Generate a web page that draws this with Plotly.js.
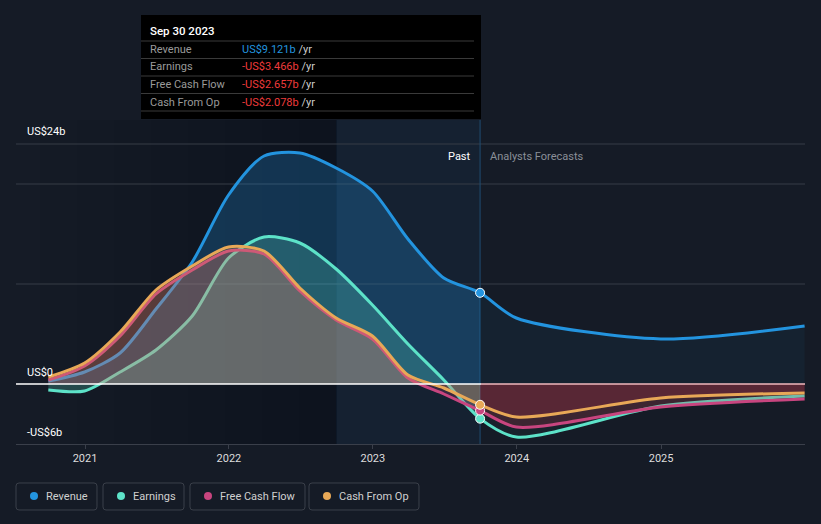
<!DOCTYPE html>
<html>
<head>
<meta charset="utf-8">
<script src="https://cdn.plot.ly/plotly-3.0.1.min.js"></script>
<style>
html,body{margin:0;padding:0;background:#151b26;}
#chart{width:821px;height:524px;}
</style>
</head>
<body>
<div id="chart"></div>
<script>
// ---- data (US$ billions, trailing twelve months) ----
const pastDates = ['2020-09-30','2020-12-31','2021-03-31','2021-06-30','2021-09-30','2021-12-31','2022-03-31','2022-06-30','2022-09-30','2022-12-31','2023-03-31','2023-06-30','2023-09-30'];
const revenuePast  = [0.3, 1.2, 3.1, 7.5, 12.2, 18.9, 22.8, 23.1, 21.6, 19.3, 14.5, 10.6, 9.121];
const earningsPast = [-0.6, -0.7, 1.2, 3.4, 6.8, 12.6, 14.7, 14.1, 11.5, 7.9, 4.0, 0.4, -3.466];
const fcfPast      = [0.4, 1.8, 4.8, 9.0, 11.4, 13.3, 13.0, 9.3, 6.4, 4.5, 0.6, -1.0, -2.657];
const cfoPast      = [0.7, 2.1, 5.2, 9.4, 11.8, 13.7, 13.3, 9.6, 6.6, 4.8, 0.9, -0.4, -2.078];

const forecastDates    = ['2023-09-30','2023-12-31','2024-12-31','2025-12-31'];
const revenueForecast  = [9.121, 6.6, 4.5, 5.8];
const earningsForecast = [-3.466, -5.3, -2.2, -1.2];
const fcfForecast      = [-2.657, -4.3, -2.3, -1.5];
const cfoForecast      = [-2.078, -3.3, -1.4, -0.9];

const seriesNames = ['Revenue','Earnings','Free Cash Flow','Cash From Op'];
const tooltipDate = 'Sep 30 2023';
const tooltipValues = ['US$9.121b','-US$3.466b','-US$2.657b','-US$2.078b'];
const xTickVals = ['2021-01-01','2022-01-01','2023-01-01','2024-01-01','2025-01-01'];
const xTickText = ['2021','2022','2023','2024','2025'];

// ---- styling ----
const SM = 0.75;
const colors = ['#2394df','#5de2c8','#c8457f','#e8a857'];
const pastFill = ['rgba(35,148,223,0.26)','rgba(93,226,200,0.24)','rgba(200,69,127,0.2)','rgba(232,168,87,0.2)'];
const foreFill = ['rgba(35,148,223,0.06)','rgba(93,226,200,0.04)','rgba(190,50,70,0.22)','rgba(190,50,70,0.22)'];
const pastSeries = [revenuePast, earningsPast, fcfPast, cfoPast];
const foreSeries = [revenueForecast, earningsForecast, fcfForecast, cfoForecast];

const traces = [];
for (let i = 0; i < 4; i++) {
  traces.push({x: pastDates, y: pastSeries[i], type:'scatter', mode:'lines', line:{width:0, shape:'spline', smoothing:SM}, fill:'tozeroy', fillcolor: pastFill[i], hoverinfo:'skip', showlegend:false});
  traces.push({x: forecastDates, y: foreSeries[i], type:'scatter', mode:'lines', line:{width:0, shape:'spline', smoothing:SM}, fill:'tozeroy', fillcolor: foreFill[i], hoverinfo:'skip', showlegend:false});
  traces.push({x: pastDates.concat(forecastDates.slice(1)), y: pastSeries[i].concat(foreSeries[i].slice(1)), type:'scatter', mode:'lines', line:{color: colors[i], width:3, shape:'spline', smoothing:SM}, name: seriesNames[i], showlegend:false, hoverinfo:'skip'});
}
for (let i = 0; i < 4; i++) {
  traces.push({x: [pastDates[pastDates.length-1]], y: [pastSeries[i][pastSeries[i].length-1]], type:'scatter', mode:'markers', marker:{color: colors[i], size:9, line:{color:'#ffffff', width:1}}, showlegend:false, hoverinfo:'skip'});
}

// pixel helpers (plot area: x 16..805, y 120..444)
const PX = px => (px - 16) / 789;
const PY = py => (444 - py) / 324;

function roundRect(x0, y0, x1, y1, r) {
  const p = (x, y) => PX(x).toFixed(5) + ',' + PY(y).toFixed(5);
  return 'M' + p(x0 + r, y0) + ' L' + p(x1 - r, y0) + ' Q' + p(x1, y0) + ' ' + p(x1, y0 + r) +
         ' L' + p(x1, y1 - r) + ' Q' + p(x1, y1) + ' ' + p(x1 - r, y1) +
         ' L' + p(x0 + r, y1) + ' Q' + p(x0, y1) + ' ' + p(x0, y1 - r) +
         ' L' + p(x0, y0 + r) + ' Q' + p(x0, y0) + ' ' + p(x0 + r, y0) + ' Z';
}

const shapes = [];
// darker gradient on the far past region
for (let k = 0; k < 8; k++) {
  shapes.push({type:'rect', layer:'below', xref:'paper', yref:'paper', x0: PX(40 + k*37), x1: PX(337), y0:0, y1:1, fillcolor:'rgba(0,0,0,0.022)', line:{width:0}});
}
// last-year highlight
shapes.push({type:'rect', layer:'below', xref:'x', yref:'paper', x0:'2022-09-30', x1:'2023-09-30', y0:0, y1:1, fillcolor:'rgba(30,110,180,0.08)', line:{width:0}});
// gridlines
[24, 20, 10].forEach(v => shapes.push({type:'line', layer:'below', xref:'paper', yref:'y', x0:0, x1:1, y0:v, y1:v, line:{color:'#363c47', width:1}}));
// divider
shapes.push({type:'line', layer:'below', xref:'x', yref:'paper', x0:'2023-09-30', x1:'2023-09-30', y0:0, y1:1, line:{color:'#1f4d70', width:1}});
// zero line
shapes.push({type:'line', layer:'above', xref:'paper', yref:'y', x0:0, x1:PX(481), y0:0, y1:0, line:{color:'#ffffff', width:1.5}});
shapes.push({type:'line', layer:'above', xref:'paper', yref:'y', x0:PX(481), x1:1, y0:0, y1:0, line:{color:'#f0b8bc', width:1.5}});

// tooltip box
shapes.push({type:'rect', xref:'paper', yref:'paper', x0:PX(141), x1:PX(481), y0:PY(119), y1:PY(15), fillcolor:'#000000', line:{width:0}});
[41, 58.5, 76, 93.5, 111].forEach(py => shapes.push({type:'line', xref:'paper', yref:'paper', x0:PX(141), x1:PX(474), y0:PY(py), y1:PY(py), line:{color:'#3a3a3a', width:1}}));

const F = 'Roboto, "Open Sans", sans-serif';
const annotations = [];
annotations.push({xref:'paper', yref:'paper', x:PX(148), y:PY(31), xanchor:'left', yanchor:'middle', showarrow:false, text:tooltipDate, font:{family:F, size:11.5, color:'#ffffff', weight:500}});
const rowY = [49.5, 67, 84.5, 102];
for (let i = 0; i < 4; i++) {
  annotations.push({xref:'paper', yref:'paper', x:PX(148), y:PY(rowY[i]), xanchor:'left', yanchor:'middle', showarrow:false, text:seriesNames[i], font:{family:F, size:11, color:'#9a9a9a'}});
  const vc = i === 0 ? '#2394df' : '#ee3b3b';
  annotations.push({xref:'paper', yref:'paper', x:PX(240), y:PY(rowY[i]), xanchor:'left', yanchor:'middle', showarrow:false, text:'<span style="color:'+vc+'">'+tooltipValues[i]+'</span> /yr', font:{family:F, size:11, color:'#cccccc'}});
}
// y labels
[[24,'US$24b',131],[0,'US$0',372],[-6,'-US$6b',432]].forEach(a => annotations.push({xref:'paper', yref:'paper', x:PX(25), y:PY(a[2]), xanchor:'left', yanchor:'middle', showarrow:false, text:a[1], font:{family:F, size:11, color:'#ffffff'}}));
annotations.push({xref:'paper', yref:'paper', x:PX(473), y:PY(156), xanchor:'right', yanchor:'middle', showarrow:false, text:'Past', font:{family:F, size:11, color:'#ffffff'}});
annotations.push({xref:'paper', yref:'paper', x:PX(488), y:PY(156), xanchor:'left', yanchor:'middle', showarrow:false, text:'Analysts Forecasts', font:{family:F, size:11, color:'#8a8f98'}});

// legend
const boxes = [[16,97],[103,184],[190,305],[309,419]];
for (let i = 0; i < 4; i++) {
  const b = boxes[i];
  shapes.push({type:'path', xref:'paper', yref:'paper', path: roundRect(b[0], 483, b[1], 510, 3), fillcolor:'rgba(0,0,0,0)', line:{color:'#3b404a', width:1}});
  shapes.push({type:'circle', xref:'paper', yref:'paper', x0:PX(b[0]+14), x1:PX(b[0]+22), y0:PY(500), y1:PY(492), fillcolor:colors[i], line:{width:0}});
  annotations.push({xref:'paper', yref:'paper', x:PX(b[0]+28), y:PY(496), xanchor:'left', yanchor:'middle', showarrow:false, text:seriesNames[i], font:{family:F, size:11, color:'#d0d0d0'}});
}

const layout = {
  width:821, height:524,
  margin:{l:16, r:16, t:120, b:80},
  paper_bgcolor:'#151b26', plot_bgcolor:'rgba(0,0,0,0)',
  showlegend:false,
  xaxis:{type:'date', range:['2020-07-10','2026-01-01'], tickvals:xTickVals, ticktext:xTickText, showgrid:false, zeroline:false, showline:true, linecolor:'#3a3f4a', linewidth:1, ticks:'outside', ticklen:4, tickcolor:'#3a3f4a', tickfont:{family:F, size:11, color:'#dddddd'}, fixedrange:true},
  yaxis:{range:[-6, 26.4], showgrid:false, zeroline:false, showticklabels:false, fixedrange:true},
  shapes: shapes,
  annotations: annotations,
  font:{family:F}
};
Plotly.newPlot('chart', traces, layout, {displayModeBar:false, staticPlot:true});
</script>
</body>
</html>
